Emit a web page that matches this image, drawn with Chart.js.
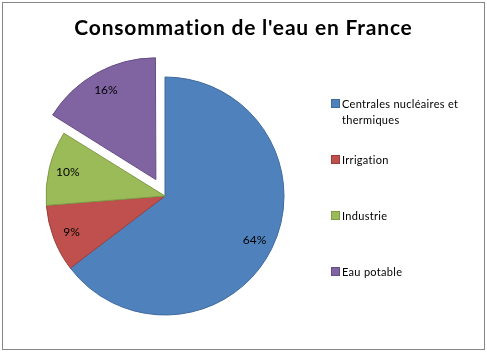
<html>
  <head>
    <script src="https://cdn.jsdelivr.net/npm/chart.js"></script>
    <style>
      body { margin: 0; background: #fff; }
      #wrap { position: relative; width: 487px; height: 352px; }
      #cadre { position: absolute; left: 2px; top: 2px; width: 481px; height: 346px; border: 1px solid #868686; }
      #titre { position: absolute; left: 0; top: 14px; width: 487px; text-align: center;
               font: bold 21px Lato, sans-serif; letter-spacing: 0.8px; color: #000; }
      #legende { position: absolute; left: 331px; top: 0; font: 11px Lato, sans-serif; color: #000; }
      .item { position: absolute; left: 0; white-space: normal; }
      .carre { position: absolute; left: 0; top: 3px; width: 7px; height: 7px; border: 1px solid; }
      .txt { position: absolute; left: 11px; top: 0; width: 130px; line-height: 16px; letter-spacing: 0.3px; }
      canvas { position: absolute; left: 0; top: 0; }
    </style>
  </head>
  <body>
  <div id="wrap">
    <div id="cadre"></div>
    <canvas id="myChart" width="487" height="352"></canvas>
    <div id="titre"></div>
    <div id="legende"></div>
  </div>
    <script>
// données
let titre = "Consommation de l'eau en France";
let labels = ['Centrales nucléaires et thermiques', 'Irrigation', 'Industrie', 'Eau potable'];
let valeurs = [64, 9, 10, 16];
let couleurs = ['#4F81BD', '#C0504D', '#9BBB59', '#8064A2'];
let bords = ['#3E6A9C', '#9E3D3A', '#7E9A46', '#664E86'];
let decalages = [0, 0, 0, 75];
let legendeY = [96, 152, 208, 264];

document.getElementById('titre').textContent = titre;

// légende à droite
let leg = document.getElementById('legende');
for (let i = 0; i < labels.length; i++) {
  let d = document.createElement('div');
  d.className = 'item';
  d.style.top = legendeY[i] + 'px';
  d.innerHTML = '<div class="carre" style="background:' + couleurs[i] + ';border-color:' + bords[i] + '"></div>' +
                '<div class="txt"></div>';
  d.querySelector('.txt').textContent = labels[i];
  leg.appendChild(d);
}

// étiquettes de pourcentage
const etiquettes = {
  id: 'etiquettes',
  afterDatasetsDraw(chart) {
    const ctx = chart.ctx;
    const meta = chart.getDatasetMeta(0);
    ctx.save();
    ctx.font = '12px Lato, sans-serif';
    ctx.fillStyle = '#000';
    ctx.textAlign = 'center';
    ctx.textBaseline = 'middle';
    meta.data.forEach(function(arc, i) {
      let mid = (arc.startAngle + arc.endAngle) / 2;
      let circ = arc.endAngle - arc.startAngle;
      let off = decalages[i] / 4;
      off = off + off * (1 - Math.sin(Math.min(Math.PI, circ)));
      let r = arc.outerRadius * 0.84 + off;
      ctx.fillText(valeurs[i] + '%', arc.x + Math.cos(mid) * r, arc.y + Math.sin(mid) * r);
    });
    ctx.restore();
  }
};

const data = {
  labels: labels,
  datasets: [{
    data: valeurs,
    backgroundColor: couleurs,
    borderColor: bords,
    borderWidth: 1,
    offset: decalages,
    hoverOffset: 0
  }]
};

const config = {
  type: 'pie',
  data: data,
  options: {
    responsive: false,
    animation: false,
    events: [],
    radius: 119,
    layout: { padding: { left: 35, right: 192, top: 66, bottom: 26 } },
    plugins: {
      legend: { display: false },
      tooltip: { enabled: false }
    }
  },
  plugins: [etiquettes]
};

let myChart = new Chart(document.getElementById('myChart'), config);
    </script>
  </body>
</html>
